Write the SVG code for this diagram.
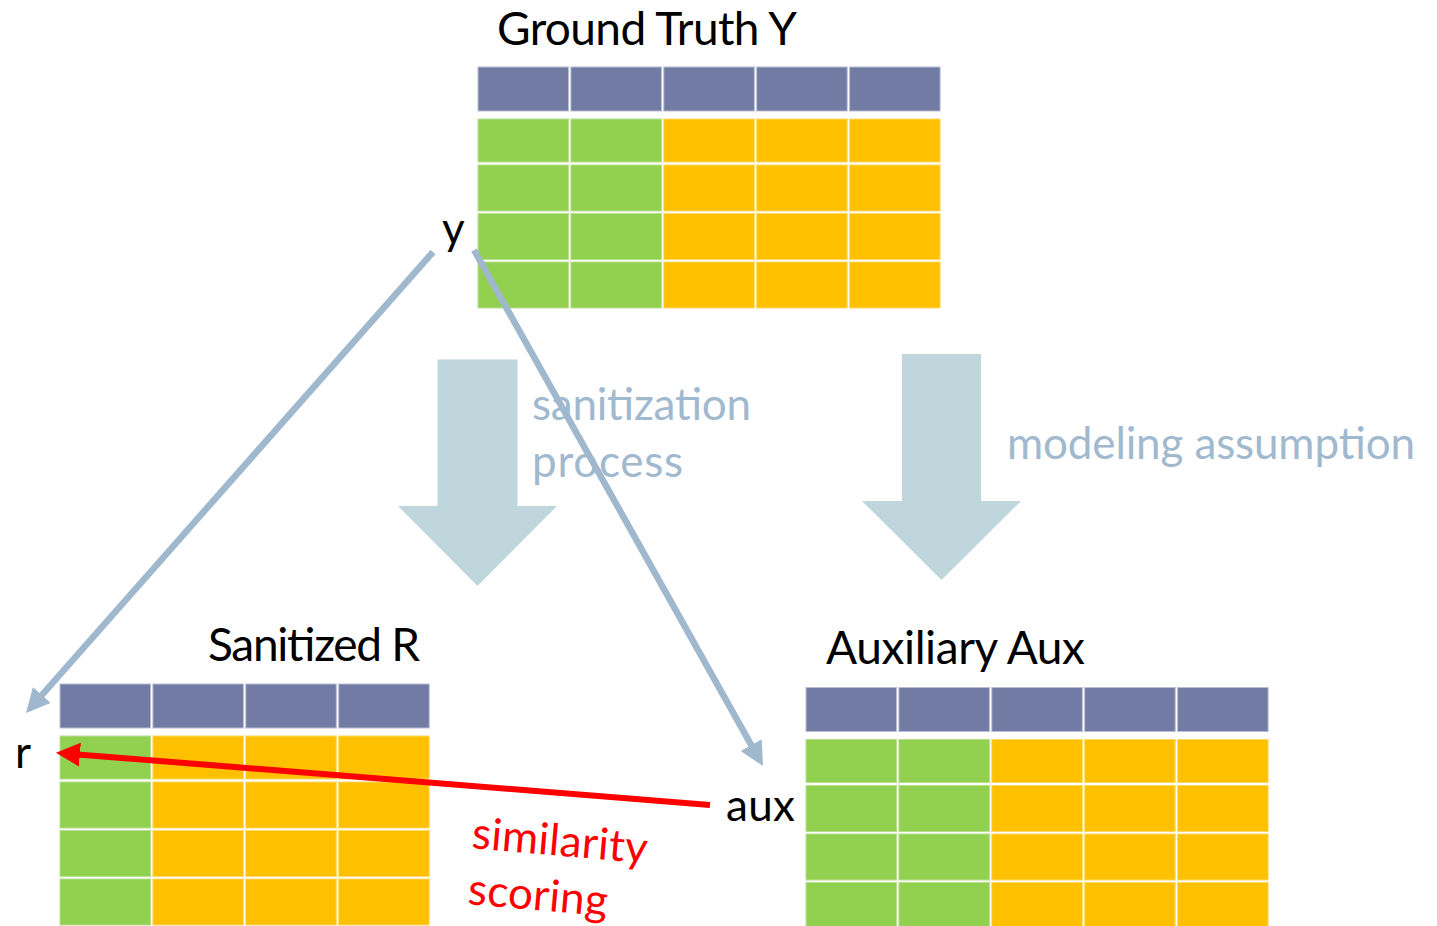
<svg xmlns="http://www.w3.org/2000/svg" width="1437" height="926" viewBox="0 0 1437 926">
  <style>
    text { font-family: "Lato", "Open Sans", "Noto Sans", sans-serif; }
    .title { font-size: 46px; fill: #000000; }
    .lbl { font-size: 44px; fill: #000000; }
    .note { font-size: 44px; fill: #A1B9CF; }
    .red { font-size: 44px; fill: #FF0000; }
    .hd { fill: #717BA3; stroke: #B8BDD3; stroke-width: 1; }
    .g { fill: #92D050; stroke: #B6E08F; stroke-width: 1; }
    .o { fill: #FFC000; stroke: #FFD766; stroke-width: 1; }
    .block { fill: #C0D6DD; }
    .link { fill: none; stroke: #A0B8CE; stroke-width: 6.5; }
    .score { fill: none; stroke: #FF0000; stroke-width: 6; }
  </style>
  <defs>
    <marker id="head-blue" viewBox="0 0 10 10" refX="1" refY="5" markerUnits="userSpaceOnUse" markerWidth="24" markerHeight="24" orient="auto">
      <path d="M0,0 L10,5 L0,10 z" fill="#A0B8CE"/>
    </marker>
    <marker id="head-red" viewBox="0 0 10 10" refX="1" refY="5" markerUnits="userSpaceOnUse" markerWidth="24" markerHeight="24" orient="auto">
      <path d="M0,0 L10,5 L0,10 z" fill="#FF0000"/>
    </marker>
  </defs>

  <rect width="1437" height="926" fill="#FFFFFF"/>

  <!-- process arrows between the tables -->
  <g id="sanitization">
    <polygon class="block" points="437.5,359.5 517.5,359.5 517.5,506 557,506 477.5,586 398,506 437.5,506"/>
    <text class="note" x="532" y="420" textLength="219" lengthAdjust="spacing">sanitization</text>
    <text class="note" x="532" y="477" textLength="151" lengthAdjust="spacing">process</text>
  </g>
  <g id="modeling">
    <polygon class="block" points="902,354 981,354 981,501 1021,501 941.5,580 862,501 902,501"/>
    <text class="note" x="1007" y="459" textLength="408" lengthAdjust="spacing">modeling assumption</text>
  </g>

  <!-- Ground Truth Y: header + 4 rows, 5 columns -->
  <g id="ground-truth">
    <text class="title" x="497" y="45" textLength="300" lengthAdjust="spacing">Ground Truth Y</text>
    <g transform="translate(478,67)">
      <rect class="hd" x="0" y="0" width="90.5" height="44"/>
      <rect class="hd" x="92.9" y="0" width="90.5" height="44"/>
      <rect class="hd" x="185.8" y="0" width="90.5" height="44"/>
      <rect class="hd" x="278.7" y="0" width="90.5" height="44"/>
      <rect class="hd" x="371.6" y="0" width="90.5" height="44"/>

      <rect class="g" x="0" y="52" width="90.5" height="43"/>
      <rect class="g" x="92.9" y="52" width="90.5" height="43"/>
      <rect class="o" x="185.8" y="52" width="90.5" height="43"/>
      <rect class="o" x="278.7" y="52" width="90.5" height="43"/>
      <rect class="o" x="371.6" y="52" width="90.5" height="43"/>

      <rect class="g" x="0" y="98" width="90.5" height="46"/>
      <rect class="g" x="92.9" y="98" width="90.5" height="46"/>
      <rect class="o" x="185.8" y="98" width="90.5" height="46"/>
      <rect class="o" x="278.7" y="98" width="90.5" height="46"/>
      <rect class="o" x="371.6" y="98" width="90.5" height="46"/>

      <rect class="g" x="0" y="146.5" width="90.5" height="46"/>
      <rect class="g" x="92.9" y="146.5" width="90.5" height="46"/>
      <rect class="o" x="185.8" y="146.5" width="90.5" height="46"/>
      <rect class="o" x="278.7" y="146.5" width="90.5" height="46"/>
      <rect class="o" x="371.6" y="146.5" width="90.5" height="46"/>

      <rect class="g" x="0" y="195" width="90.5" height="46"/>
      <rect class="g" x="92.9" y="195" width="90.5" height="46"/>
      <rect class="o" x="185.8" y="195" width="90.5" height="46"/>
      <rect class="o" x="278.7" y="195" width="90.5" height="46"/>
      <rect class="o" x="371.6" y="195" width="90.5" height="46"/>
    </g>
  </g>

  <!-- Sanitized R: header + 4 rows, 4 columns -->
  <g id="sanitized">
    <text class="title" x="208" y="661" textLength="212" lengthAdjust="spacing">Sanitized R</text>
    <g transform="translate(60,684)">
      <rect class="hd" x="0" y="0" width="90.5" height="44"/>
      <rect class="hd" x="92.9" y="0" width="90.5" height="44"/>
      <rect class="hd" x="185.8" y="0" width="90.5" height="44"/>
      <rect class="hd" x="278.7" y="0" width="90.5" height="44"/>

      <rect class="g" x="0" y="52" width="90.5" height="43"/>
      <rect class="o" x="92.9" y="52" width="90.5" height="43"/>
      <rect class="o" x="185.8" y="52" width="90.5" height="43"/>
      <rect class="o" x="278.7" y="52" width="90.5" height="43"/>

      <rect class="g" x="0" y="98" width="90.5" height="46"/>
      <rect class="o" x="92.9" y="98" width="90.5" height="46"/>
      <rect class="o" x="185.8" y="98" width="90.5" height="46"/>
      <rect class="o" x="278.7" y="98" width="90.5" height="46"/>

      <rect class="g" x="0" y="146.5" width="90.5" height="46"/>
      <rect class="o" x="92.9" y="146.5" width="90.5" height="46"/>
      <rect class="o" x="185.8" y="146.5" width="90.5" height="46"/>
      <rect class="o" x="278.7" y="146.5" width="90.5" height="46"/>

      <rect class="g" x="0" y="195" width="90.5" height="46"/>
      <rect class="o" x="92.9" y="195" width="90.5" height="46"/>
      <rect class="o" x="185.8" y="195" width="90.5" height="46"/>
      <rect class="o" x="278.7" y="195" width="90.5" height="46"/>
    </g>
  </g>

  <!-- Auxiliary Aux: header + 4 rows, 5 columns -->
  <g id="auxiliary">
    <text class="title" x="826" y="664" textLength="259" lengthAdjust="spacing">Auxiliary Aux</text>
    <g transform="translate(806,687.5)">
      <rect class="hd" x="0" y="0" width="90.5" height="44"/>
      <rect class="hd" x="92.9" y="0" width="90.5" height="44"/>
      <rect class="hd" x="185.8" y="0" width="90.5" height="44"/>
      <rect class="hd" x="278.7" y="0" width="90.5" height="44"/>
      <rect class="hd" x="371.6" y="0" width="90.5" height="44"/>

      <rect class="g" x="0" y="52" width="90.5" height="43"/>
      <rect class="g" x="92.9" y="52" width="90.5" height="43"/>
      <rect class="o" x="185.8" y="52" width="90.5" height="43"/>
      <rect class="o" x="278.7" y="52" width="90.5" height="43"/>
      <rect class="o" x="371.6" y="52" width="90.5" height="43"/>

      <rect class="g" x="0" y="98" width="90.5" height="46"/>
      <rect class="g" x="92.9" y="98" width="90.5" height="46"/>
      <rect class="o" x="185.8" y="98" width="90.5" height="46"/>
      <rect class="o" x="278.7" y="98" width="90.5" height="46"/>
      <rect class="o" x="371.6" y="98" width="90.5" height="46"/>

      <rect class="g" x="0" y="146.5" width="90.5" height="46"/>
      <rect class="g" x="92.9" y="146.5" width="90.5" height="46"/>
      <rect class="o" x="185.8" y="146.5" width="90.5" height="46"/>
      <rect class="o" x="278.7" y="146.5" width="90.5" height="46"/>
      <rect class="o" x="371.6" y="146.5" width="90.5" height="46"/>

      <rect class="g" x="0" y="195" width="90.5" height="46"/>
      <rect class="g" x="92.9" y="195" width="90.5" height="46"/>
      <rect class="o" x="185.8" y="195" width="90.5" height="46"/>
      <rect class="o" x="278.7" y="195" width="90.5" height="46"/>
      <rect class="o" x="371.6" y="195" width="90.5" height="46"/>
    </g>
  </g>

  <!-- record labels -->
  <g id="label-y"><text class="lbl" x="442" y="244">y</text></g>
  <g id="label-r"><text class="lbl" x="15" y="768">r</text></g>
  <g id="label-aux"><text class="lbl" x="726" y="821" textLength="69" lengthAdjust="spacing">aux</text></g>

  <!-- connectors -->
  <g id="connectors">
    <line class="link" x1="433" y1="252" x2="40.3" y2="696.8" marker-end="url(#head-blue)"/>
    <line class="link" x1="474" y1="250" x2="752.4" y2="747.2" marker-end="url(#head-blue)"/>
    <line class="score" x1="710" y1="805" x2="77.5" y2="754.4" marker-end="url(#head-red)"/>
  </g>

  <g id="similarity-label">
    <text class="red" x="471" y="848" transform="rotate(5 471 848)" textLength="176" lengthAdjust="spacing">similarity</text>
    <text class="red" x="467" y="904" transform="rotate(5 467 904)" textLength="140" lengthAdjust="spacing">scoring</text>
  </g>
</svg>
